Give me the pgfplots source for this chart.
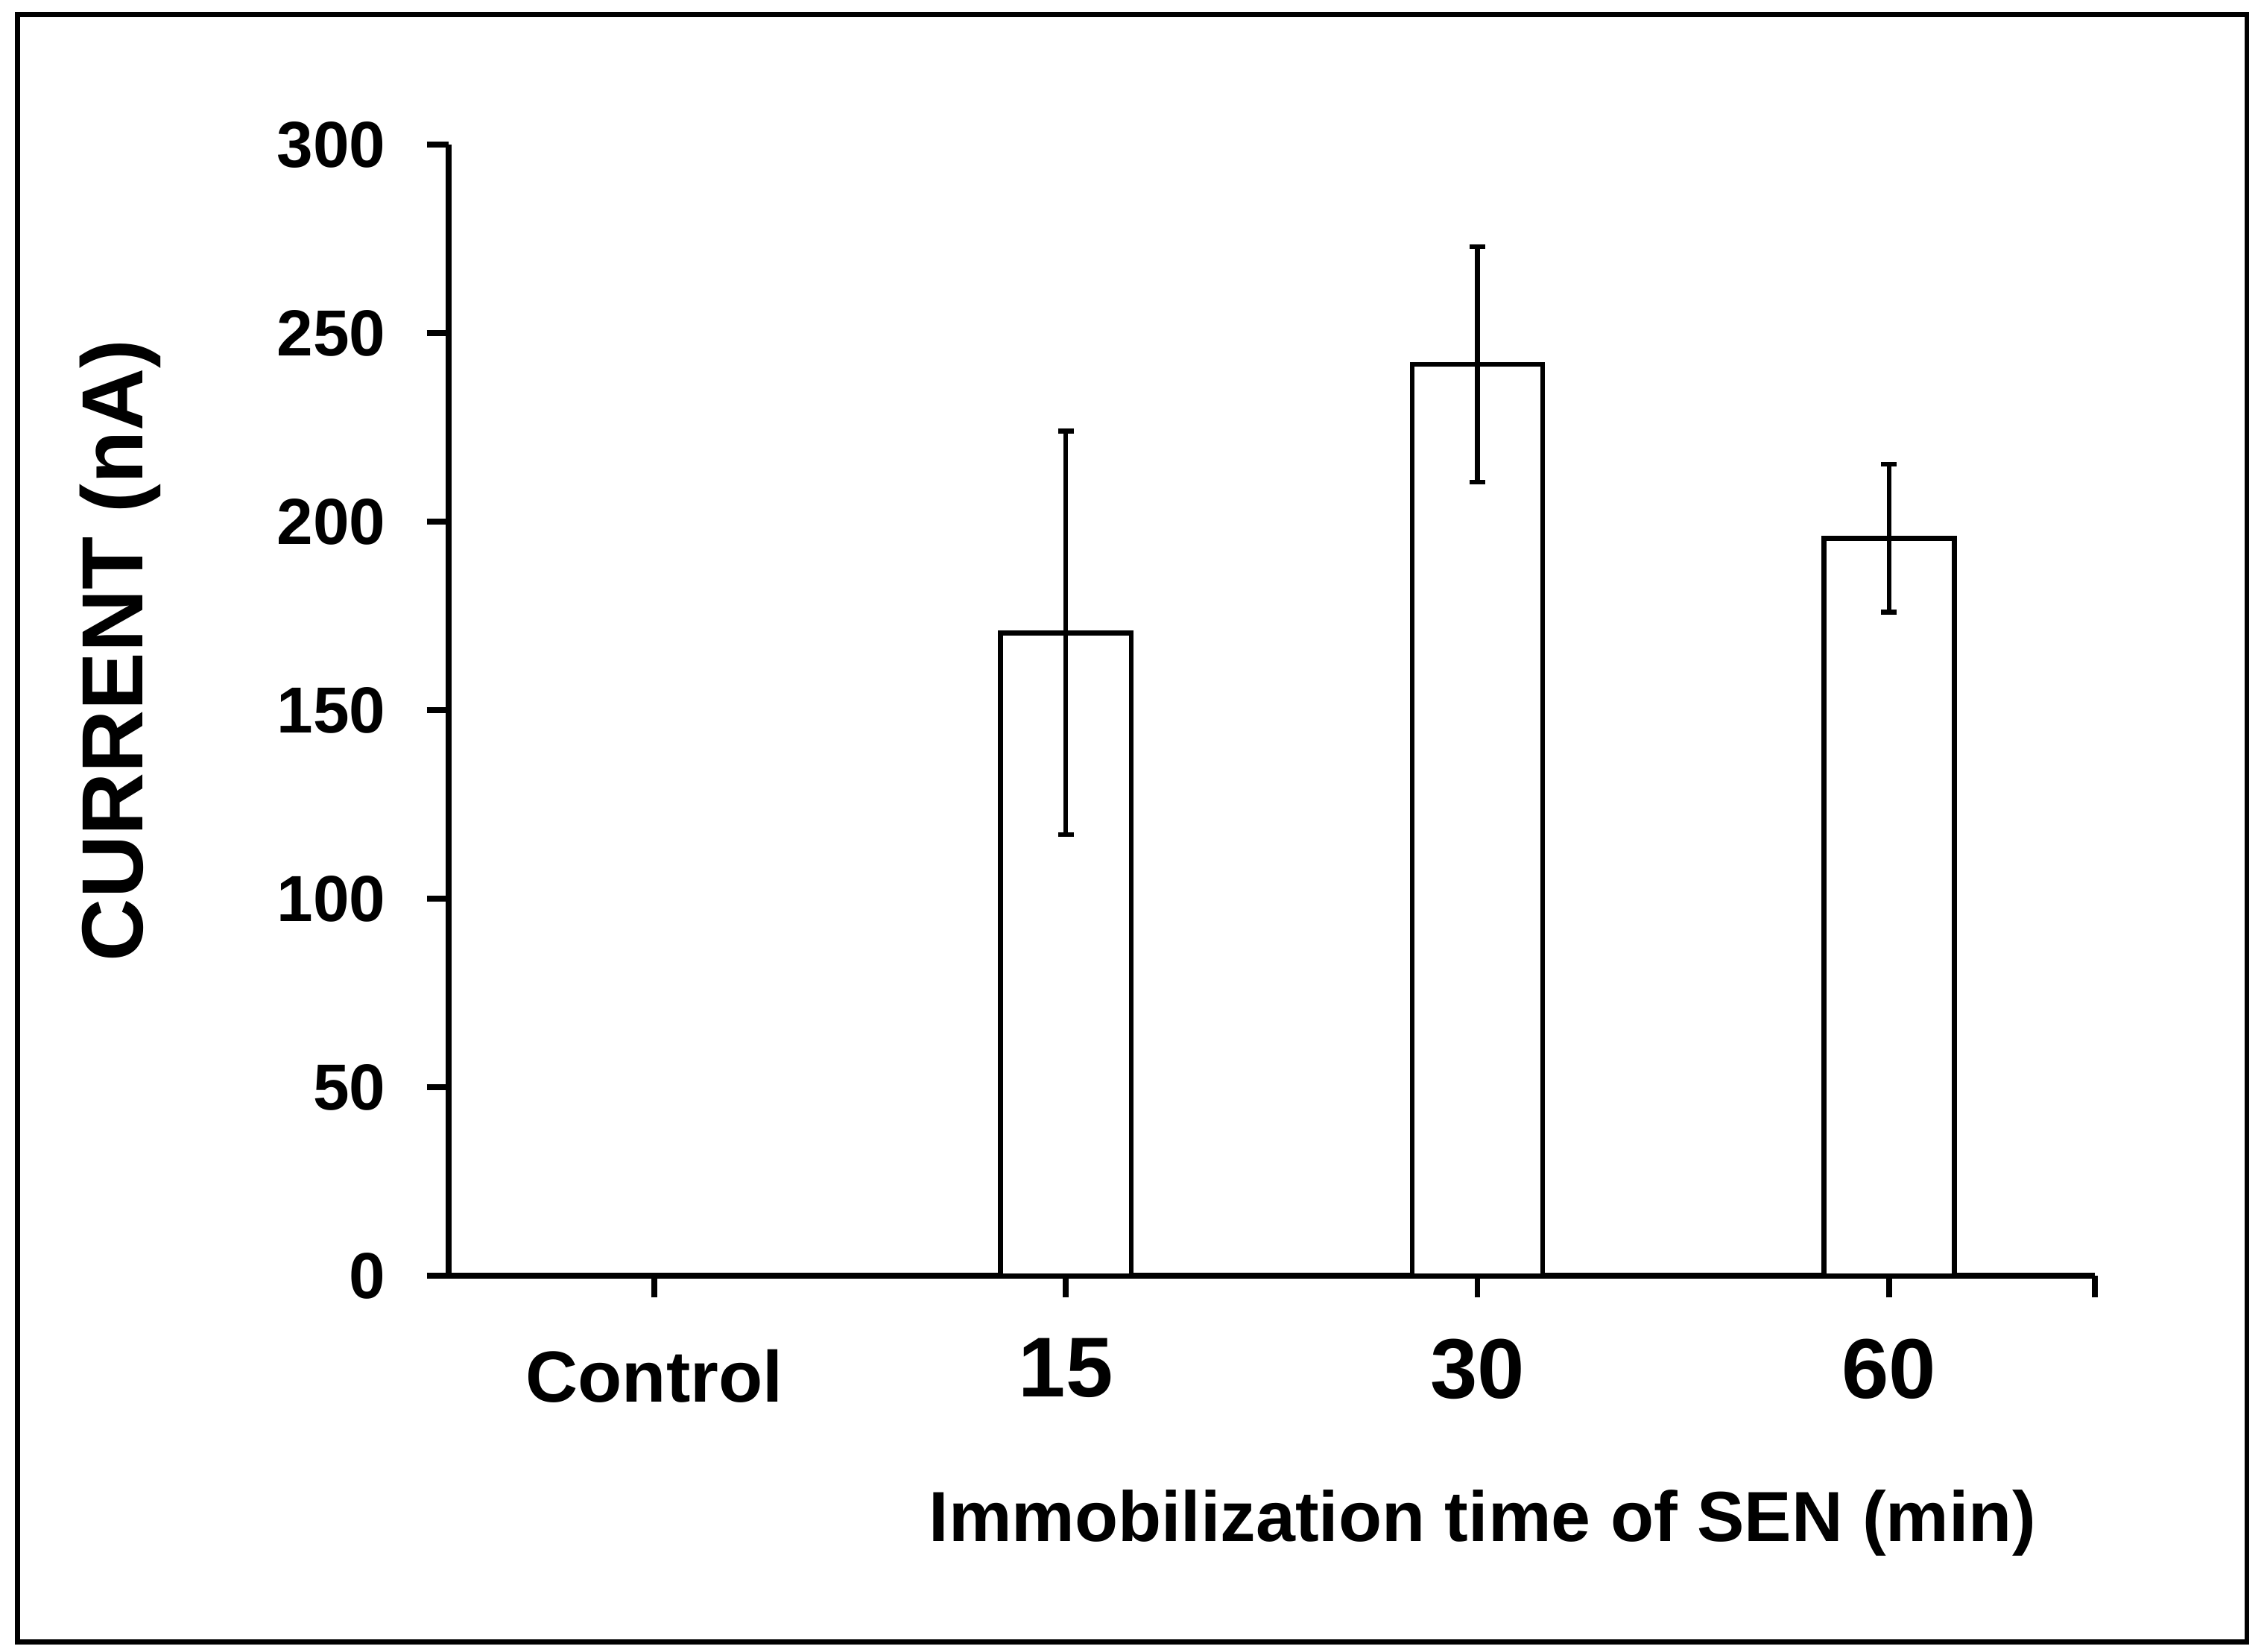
\documentclass[border=0pt]{standalone}
\usepackage{fontspec}
\setmainfont{Liberation Sans}
\usepackage{pgfplots}
\pgfplotsset{compat=1.18}

\begin{document}
\begin{tikzpicture}
% page area and outer frame (1 px of the 1567 px wide view = 0.3pt)
\path[use as bounding box] (-93pt,-78pt) rectangle (377.1pt,264.6pt);
\draw[line width=1pt] (-89.4pt,-75.9pt) rectangle (372.9pt,261.6pt);
\begin{axis}[
    at={(0,0)}, anchor=origin,
    scale only axis,
    width=341.4pt,
    height=234.6pt,
    xmin=0, xmax=4,
    ymin=0, ymax=300,
    axis lines=left,
    axis line style={line width=1.2pt, -},
    every tick/.style={black, line width=1.2pt},
    tick align=outside,
    major tick length=4.5pt,
    xtick={0.5,1.5,2.5,3.5,4},
    xticklabels={{\fontsize{15}{15}\selectfont\raisebox{-2.2pt}[\height][\depth]{Control}},
                 {\fontsize{17.6}{17.6}\selectfont 15},
                 {\fontsize{17.6}{17.6}\selectfont 30},
                 {\fontsize{17.6}{17.6}\selectfont 60},{}},
    xticklabel style={font=\bfseries, anchor=north, yshift=-5pt},
    ytick={0,50,100,150,200,250,300},
    yticklabel style={font=\fontsize{13.5}{13.5}\selectfont\bfseries, xshift=-5pt},
    /pgf/number format/assume math mode=true,
    ylabel={CURRENT (nA)},
    ylabel style={font=\fontsize{18}{18}\selectfont\bfseries,
        at={(rel axis cs:0,0.553)}, anchor=center, yshift=68pt},
    xlabel={Immobilization time of SEN (min)},
    xlabel style={font=\fontsize{14.7}{14.7}\selectfont\bfseries,
        at={(rel axis cs:0.628,0)}, anchor=center, yshift=-51.3pt},
    clip=false,
]
\addplot[ybar, bar width=0.317, fill=white, draw=black, line width=1pt,
    error bars/.cd, y dir=both, y explicit,
    error bar style={line width=1pt},
    error mark options={rotate=90, mark size=1.6pt, line width=1pt}]
coordinates {
    (1.5,170.5) +- (0,53.5)
    (2.5,241.7) +- (0,31.2)
    (3.5,195.6) +- (0,19.6)
};
\end{axis}
\end{tikzpicture}
\end{document}
